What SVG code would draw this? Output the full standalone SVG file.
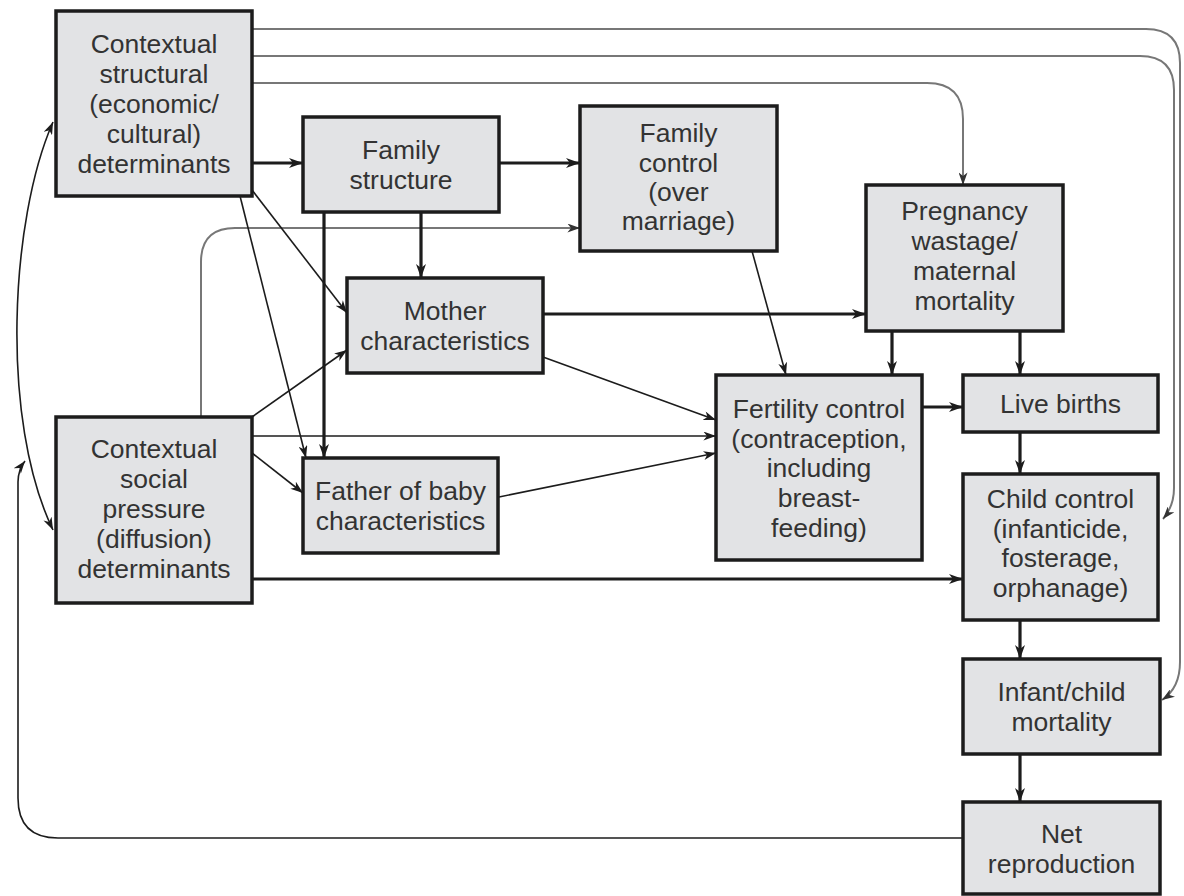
<svg xmlns="http://www.w3.org/2000/svg" width="1184" height="896" viewBox="0 0 1184 896">
<defs>
<style>
.box{fill:#e2e3e5;stroke:#1c1c1c;stroke-width:3.5}
.t{font-family:"Liberation Sans",Arial,sans-serif;font-size:26.5px;fill:#333;text-anchor:middle}
.thick{fill:none;stroke:#1c1c1c;stroke-width:3.2;marker-end:url(#ah)}
.thin{fill:none;stroke:#1c1c1c;stroke-width:1.6;marker-end:url(#as)}
.gray{fill:none;stroke:#777;stroke-width:2;marker-end:url(#ag)}
</style>
<marker id="ah" viewBox="0 0 14 10" refX="14" refY="5" markerWidth="14" markerHeight="10" markerUnits="userSpaceOnUse" orient="auto"><path d="M0,0 L14,5 L0,10 L4,5 z" fill="#1c1c1c"/></marker>
<marker id="as" viewBox="0 0 14 10" refX="14" refY="5" markerWidth="13" markerHeight="9" markerUnits="userSpaceOnUse" orient="auto-start-reverse"><path d="M0,0 L14,5 L0,10 L4,5 z" fill="#1c1c1c"/></marker>
<marker id="ag" viewBox="0 0 14 10" refX="14" refY="5" markerWidth="13" markerHeight="9" markerUnits="userSpaceOnUse" orient="auto"><path d="M0,0 L14,5 L0,10 L4,5 z" fill="#333"/></marker>
</defs>
<rect width="1184" height="896" fill="#fff"/>
<g id="connectors">
<path class="gray" d="M252,29 H1146 Q1180,29 1180,63 V662 Q1180,688 1162,700"/>
<path class="gray" d="M252,56 H1140 Q1174,56 1174,90 V488 Q1174,506 1163,519"/>
<path class="gray" d="M252,83 H927 Q963,83 963,119 V185"/>
<path class="gray" d="M201,417 V262 Q201,228 235,228 H580"/>
<path class="thick" d="M252,163 H303"/>
<path class="thick" d="M499,163 H580"/>
<path class="thick" d="M421,212 V278"/>
<path class="thick" d="M324,212 V458"/>
<path class="thick" d="M543,314 H866"/>
<path class="thick" d="M892,331 V375"/>
<path class="thick" d="M1020,331 V375"/>
<path class="thick" d="M922,407 H963"/>
<path class="thick" d="M1020,432 V474"/>
<path class="thick" d="M252,579 H963"/>
<path class="thick" d="M1020,620 V659"/>
<path class="thick" d="M1020,754 V802"/>
<path class="thin" d="M252,190 L347,313"/>
<path class="thin" d="M240,196 L306,458"/>
<path class="thin" d="M252,417 L347,350"/>
<path class="thin" d="M252,453 L303,493"/>
<path class="thin" d="M252,436 H716"/>
<path class="thin" d="M543,357 L716,420"/>
<path class="thin" d="M499,497 L716,453"/>
<path class="thin" d="M752,251 L786,375"/>
<path class="thin" d="M963,838 H58 Q18,838 18,798 V482 Q18,470 25,461"/>
<path class="thin" style="marker-start:url(#as)" d="M53,122 C10,220 0,420 53,530"/>
</g>
<g id="n-structural"><rect class="box" x="56" y="11" width="196" height="185"/>
<text class="t" x="154" y="53">Contextual</text><text class="t" x="154" y="83">structural</text><text class="t" x="154" y="113">(economic/</text><text class="t" x="154" y="143">cultural)</text><text class="t" x="154" y="173">determinants</text></g>
<g id="n-family-structure"><rect class="box" x="303" y="117" width="196" height="95"/>
<text class="t" x="401" y="159">Family</text><text class="t" x="401" y="189">structure</text></g>
<g id="n-family-control"><rect class="box" x="580" y="106" width="197" height="145"/>
<text class="t" x="678.5" y="142">Family</text><text class="t" x="678.5" y="172">control</text><text class="t" x="678.5" y="201">(over</text><text class="t" x="678.5" y="230">marriage)</text></g>
<g id="n-pregnancy"><rect class="box" x="866" y="185" width="197" height="146"/>
<text class="t" x="964.5" y="220">Pregnancy</text><text class="t" x="964.5" y="250">wastage/</text><text class="t" x="964.5" y="280">maternal</text><text class="t" x="964.5" y="310">mortality</text></g>
<g id="n-mother"><rect class="box" x="347" y="278" width="196" height="95"/>
<text class="t" x="445" y="320">Mother</text><text class="t" x="445" y="350">characteristics</text></g>
<g id="n-fertility"><rect class="box" x="716" y="375" width="206" height="185"/>
<text class="t" x="819" y="418">Fertility control</text><text class="t" x="819" y="448">(contraception,</text><text class="t" x="819" y="477">including</text><text class="t" x="819" y="507">breast-</text><text class="t" x="819" y="537">feeding)</text></g>
<g id="n-live-births"><rect class="box" x="963" y="375" width="195" height="57"/>
<text class="t" x="1060.5" y="413">Live births</text></g>
<g id="n-social"><rect class="box" x="56" y="417" width="196" height="186"/>
<text class="t" x="154" y="458">Contextual</text><text class="t" x="154" y="488">social</text><text class="t" x="154" y="518">pressure</text><text class="t" x="154" y="548">(diffusion)</text><text class="t" x="154" y="578">determinants</text></g>
<g id="n-father"><rect class="box" x="303" y="458" width="195" height="95"/>
<text class="t" x="400.5" y="500">Father of baby</text><text class="t" x="400.5" y="530">characteristics</text></g>
<g id="n-child-control"><rect class="box" x="963" y="474" width="195" height="146"/>
<text class="t" x="1060.5" y="508">Child control</text><text class="t" x="1060.5" y="538">(infanticide,</text><text class="t" x="1060.5" y="567">fosterage,</text><text class="t" x="1060.5" y="597">orphanage)</text></g>
<g id="n-infant"><rect class="box" x="963" y="659" width="197" height="95"/>
<text class="t" x="1061.5" y="701">Infant/child</text><text class="t" x="1061.5" y="731">mortality</text></g>
<g id="n-net"><rect class="box" x="963" y="802" width="197" height="92"/>
<text class="t" x="1061.5" y="843">Net</text><text class="t" x="1061.5" y="873">reproduction</text></g>
</svg>
